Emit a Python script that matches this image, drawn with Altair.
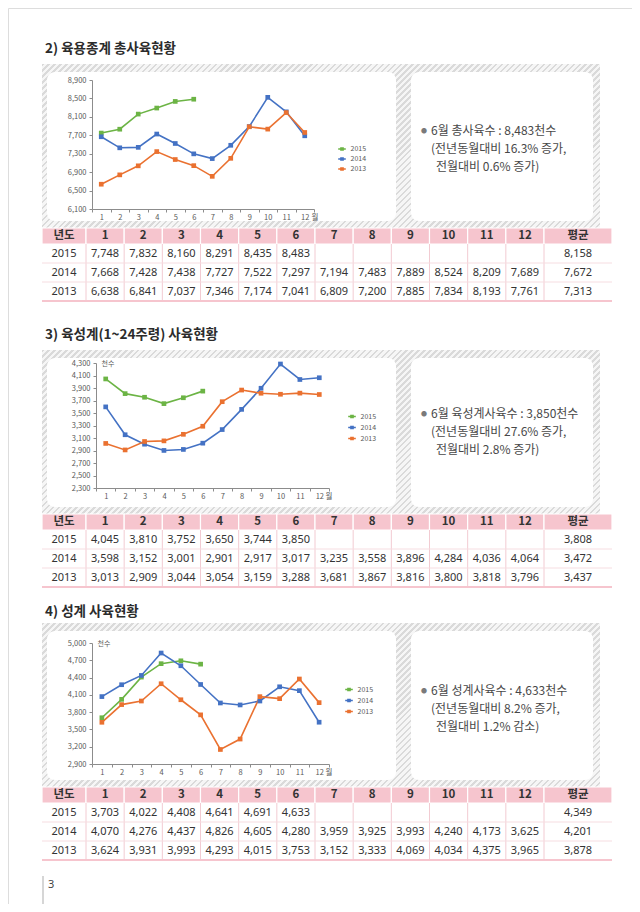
import altair as alt
import pandas as pd

# ---------------- data (thousand birds) ----------------
MONTHS = [1, 2, 3, 4, 5, 6, 7, 8, 9, 10, 11, 12]
YEARS = ["2015", "2014", "2013"]
HEADER = ["년도", "1", "2", "3", "4", "5", "6", "7", "8", "9", "10", "11", "12", "평균"]

BROILER_2015 = [7748, 7832, 8160, 8291, 8435, 8483]
BROILER_2014 = [7668, 7428, 7438, 7727, 7522, 7297, 7194, 7483, 7889, 8524, 8209, 7689]
BROILER_2013 = [6638, 6841, 7037, 7346, 7174, 7041, 6809, 7200, 7885, 7834, 8193, 7761]
BROILER_AVG = [8158, 7672, 7313]

GROW_2015 = [4045, 3810, 3752, 3650, 3744, 3850]
GROW_2014 = [3598, 3152, 3001, 2901, 2917, 3017, 3235, 3558, 3896, 4284, 4036, 4064]
GROW_2013 = [3013, 2909, 3044, 3054, 3159, 3288, 3681, 3867, 3816, 3800, 3818, 3796]
GROW_AVG = [3808, 3472, 3437]

ADULT_2015 = [3703, 4022, 4408, 4641, 4691, 4633]
ADULT_2014 = [4070, 4276, 4437, 4826, 4605, 4280, 3959, 3925, 3993, 4240, 4173, 3625]
ADULT_2013 = [3624, 3931, 3993, 4293, 4015, 3753, 3152, 3333, 4069, 4034, 4375, 3965]
ADULT_AVG = [4349, 4201, 3878]

TICKS_BROILER = [6100, 6500, 6900, 7300, 7700, 8100, 8500, 8900]
TICKS_GROW = [2300, 2500, 2700, 2900, 3100, 3300, 3500, 3700, 3900, 4100, 4300]
TICKS_ADULT = [2900, 3200, 3500, 3800, 4100, 4400, 4700, 5000]

TITLES = ["2) 육용종계 총사육현황", "3) 육성계(1~24주령) 사육현황", "4) 성계 사육현황"]
NOTES = [
    ["6월 총사육수 : 8,483천수", "(전년동월대비 16.3% 증가,", "전월대비 0.6% 증가)"],
    ["6월 육성계사육수 : 3,850천수", "(전년동월대비 27.6% 증가,", "전월대비 2.8% 증가)"],
    ["6월 성계사육수 : 4,633천수", "(전년동월대비 8.2% 증가,", "전월대비 1.2% 감소)"],
]
PAGE_NO = "3"

# ---------------- layout / style ----------------
W, H = 624, 896
MARGIN = 8
KR = "Noto Sans CJK KR"
NUM = "Noto Sans"
COLORS = ["#6cb445", "#4472c4", "#ea7130"]
PINK = "#f6c5ce"
PINK_LINE = "#f2cbd2"
AXIS_GRAY = "#8c8c8c"
LABEL_GRAY = "#595959"
SYM = "M-1.9,0L1.9,0M-0.55,-0.55L0.55,-0.55L0.55,0.55L-0.55,0.55Z"

# hatched frame: diagonal stripes as a hard-stop gradient
HATCH_W, HATCH_H = 558, 164
HATCH_PERIOD = 6.0  # along x+y, pixels
_ratio = HATCH_H / HATCH_W
_span = HATCH_W + HATCH_H
_a = _span / (HATCH_W * (1 + _ratio * _ratio))
_n = int(_span / HATCH_PERIOD) + 1
_stops = []
for k in range(_n):
    t0 = k / _n
    t1 = (k + 0.42) / _n
    t2 = (k + 1) / _n
    _stops += [
        alt.GradientStop(offset=t0, color="#dadada"),
        alt.GradientStop(offset=t1, color="#dadada"),
        alt.GradientStop(offset=t1, color="#f6f6f6"),
        alt.GradientStop(offset=min(t2, 1.0), color="#f6f6f6"),
    ]
HATCH_FILL = alt.LinearGradient(gradient="linear", stops=_stops, x1=0, y1=0, x2=_a, y2=_a * _ratio)

DUMMY = pd.DataFrame({"k": [0]})


def p(v):
    return v - MARGIN


def deco_rect(x0, y0, x1, y1, fill, radius=0):
    return alt.Chart(DUMMY).mark_rect(fill=fill, cornerRadius=radius).encode(
        x=alt.value(p(x0)), x2=alt.value(p(x1)), y=alt.value(p(y0)), y2=alt.value(p(y1))
    )


def deco_text(x, y, text, size, color, font=KR, weight="normal"):
    return alt.Chart(DUMMY).mark_text(
        align="left", baseline="middle", font=font, fontSize=size, fontWeight=weight, color=color
    ).encode(x=alt.value(p(x)), y=alt.value(p(y)), text=alt.value(text))


def line_chart(series, ticks, g):
    rows = []
    for year, vals in zip(YEARS, series):
        for m, v in zip(MONTHS, vals):
            rows.append({"year": year, "month": m, "value": v})
    df = pd.DataFrame(rows)

    xenc = alt.X(
        "month:O",
        scale=alt.Scale(type="band", range=[p(g["x0"]), p(g["x1"])], paddingInner=0, paddingOuter=0),
        axis=alt.Axis(
            orient="bottom", offset=p(g["yb"]) - H, labelAngle=0, tickBand="extent", zindex=2,
            tickSize=3, domainColor=AXIS_GRAY, tickColor=AXIS_GRAY, labelColor=LABEL_GRAY,
            labelFont=KR, labelFontSize=7.5, labelPadding=1, grid=False,
            title="월", titleX=p(g["wx"]), titleY=8, titleAlign="left", titleBaseline="middle",
            titleFont=KR, titleFontSize=7.5, titleFontWeight="normal", titleColor=LABEL_GRAY,
        ),
    )
    yaxis = dict(
        orient="left", offset=-p(g["ax"]), values=ticks, format=",d", grid=False, zindex=2,
        tickSize=3, domainColor=AXIS_GRAY, tickColor=AXIS_GRAY, labelColor=LABEL_GRAY,
        labelFont=KR, labelFontSize=7.5, labelPadding=3,
    )
    if g.get("unit"):
        yaxis.update(title="천수", titleAngle=0, titleX=5, titleY=p(g["yt"]), titleAlign="left",
                     titleBaseline="middle", titleFont=KR, titleFontSize=7, titleFontWeight="normal",
                     titleColor=LABEL_GRAY)
    else:
        yaxis.update(title=None)
    yenc = alt.Y(
        "value:Q",
        scale=alt.Scale(domain=[ticks[0], ticks[-1]], range=[p(g["yb"]), p(g["yt"])], nice=False, zero=False),
        axis=alt.Axis(**yaxis),
    )
    color = alt.Color(
        "year:N",
        scale=alt.Scale(domain=YEARS, range=COLORS),
        legend=alt.Legend(
            orient="none", legendX=p(g["lx"]), legendY=p(g["ly"]), title=None,
            labelFont=KR, labelFontSize=7, labelColor=LABEL_GRAY, labelOffset=5,
            symbolType=SYM, symbolSize=16, symbolStrokeWidth=1.5, rowPadding=g["rp"],
            padding=0,
        ),
    )
    line = alt.Chart(df).mark_line(strokeWidth=1.6).encode(x=xenc, y=yenc, color=color)
    pts = alt.Chart(df).mark_point(shape="square", filled=True, size=22, opacity=1).encode(
        x=xenc, y=yenc, color=alt.Color("year:N", legend=None)
    )
    return alt.layer(line, pts)


def table_chart(series, avgs, top):
    hdr_h, row_h = 16, 19
    xs = alt.Scale(domain=[0, 1, 13, 14], range=[p(42), p(86), p(544), p(612)], nice=False, zero=False)
    ys = alt.Scale(domain=[0, 1, 4], range=[p(top), p(top + hdr_h), p(top + hdr_h + 3 * row_h)],
                   nice=False, zero=False)

    head = pd.DataFrame({"c": list(range(len(HEADER))), "t": HEADER})
    head["c1"] = head["c"] + 1
    head["cx"] = head["c"] + 0.5
    head["r0"] = 0
    head["r1"] = 1
    head["ry"] = 0.5

    body = []
    for ri, (year, vals, a) in enumerate(zip(YEARS, series, avgs), start=1):
        body.append({"c": 0, "r": ri, "t": year})
        for m, v in zip(MONTHS, vals):
            body.append({"c": m, "r": ri, "t": f"{v:,}"})
        body.append({"c": 13, "r": ri, "t": f"{a:,}"})
    body = pd.DataFrame(body)
    body["cx"] = body["c"] + 0.5
    body["ry"] = body["r"] + 0.5

    vlines = pd.DataFrame({"b": list(range(1, 14))})
    vlines["r0"] = 1
    vlines["r1"] = 4
    hlines = pd.DataFrame({"r": [2, 3], "c0": [0, 0], "c1": [14, 14]})
    bline = pd.DataFrame({"r": [4], "c0": [0], "c1": [14]})

    X = lambda f: alt.X(f, scale=xs, axis=None)
    Y = lambda f: alt.Y(f, scale=ys, axis=None)

    hrect = alt.Chart(head).mark_rect(fill=PINK, stroke="white", strokeWidth=1.2).encode(
        x=X("c:Q"), x2="c1:Q", y=Y("r0:Q"), y2="r1:Q")
    htext = alt.Chart(head).mark_text(font=KR, fontSize=11.5, fontWeight="bold", color="#333333",
                                      baseline="middle").encode(x=X("cx:Q"), y=Y("ry:Q"), text="t:N")
    vr = alt.Chart(vlines).mark_rule(color=PINK_LINE, strokeWidth=1).encode(
        x=X("b:Q"), y=Y("r0:Q"), y2="r1:Q")
    hr = alt.Chart(hlines).mark_rule(color="#f6dde1", strokeWidth=1).encode(
        x=X("c0:Q"), x2="c1:Q", y=Y("r:Q"))
    br = alt.Chart(bline).mark_rule(color=PINK, strokeWidth=2).encode(
        x=X("c0:Q"), x2="c1:Q", y=Y("r:Q"))
    btext = alt.Chart(body).mark_text(font=NUM, fontSize=11, color="#333333", baseline="middle").encode(
        x=X("cx:Q"), y=Y("ry:Q"), text="t:N")
    return alt.layer(hrect, vr, hr, br, htext, btext)


SECTIONS = [
    dict(base=0, title_y=49, series=[BROILER_2015, BROILER_2014, BROILER_2013], avg=BROILER_AVG,
         ticks=TICKS_BROILER, note_y=[131, 149, 167],
         g=dict(x0=92, x1=314, yt=80, yb=209, ax=92, wx=311, lx=338.5, ly=145.5, rp=1, unit=False)),
    dict(base=286, title_y=335, series=[GROW_2015, GROW_2014, GROW_2013], avg=GROW_AVG,
         ticks=TICKS_GROW, note_y=[414, 432, 450],
         g=dict(x0=96, x1=329, yt=363, yb=488, ax=96, wx=325, lx=348.5, ly=413, rp=2, unit=True)),
    dict(base=559, title_y=612, series=[ADULT_2015, ADULT_2014, ADULT_2013], avg=ADULT_AVG,
         ticks=TICKS_ADULT, note_y=[691, 709, 727],
         g=dict(x0=92, x1=329, yt=643, yb=764, ax=92, wx=325, lx=345.5, ly=686, rp=2, unit=True)),
]

layers = []
for i, s in enumerate(SECTIONS):
    b = s["base"]
    layers.append(deco_text(45, s["title_y"], TITLES[i], 13.5, "#2b2b2b", weight="bold"))
    layers.append(deco_rect(42, 64 + b, 42 + HATCH_W, 64 + b + HATCH_H, HATCH_FILL))
    layers.append(deco_rect(47, 72 + b, 396, 221 + b, "white", radius=8))
    layers.append(deco_rect(411, 72 + b, 593, 221 + b, "white", radius=8))
    layers.append(line_chart(s["series"], s["ticks"], s["g"]))
    ny = s["note_y"]
    layers.append(deco_text(421, ny[0], "●", 6, "#7a7a7a"))
    layers.append(deco_text(431, ny[0], NOTES[i][0], 12, "#484848"))
    layers.append(deco_text(431, ny[1], NOTES[i][1], 12, "#484848"))
    layers.append(deco_text(436, ny[2], NOTES[i][2], 12, "#484848"))
    layers.append(table_chart(s["series"], s["avg"], 228 + b))

layers.append(
    alt.Chart(DUMMY).mark_rule(color="#c8c8c8", strokeWidth=1.5).encode(
        x=alt.value(p(43)), y=alt.value(p(876)), y2=alt.value(p(910)))
)
layers.append(deco_text(48, 885, PAGE_NO, 11, "#444444", font=NUM))

chart = (
    alt.layer(*layers)
    .resolve_scale(x="independent", y="independent")
    .resolve_legend(color="independent")
    .properties(width=W, height=H, padding=0, autosize=alt.AutoSizeParams(type="none"))
    .configure_view(stroke=None)
    .configure(background="white")
)

chart.save("out.html", embed_options={"renderer": "svg", "actions": False})
